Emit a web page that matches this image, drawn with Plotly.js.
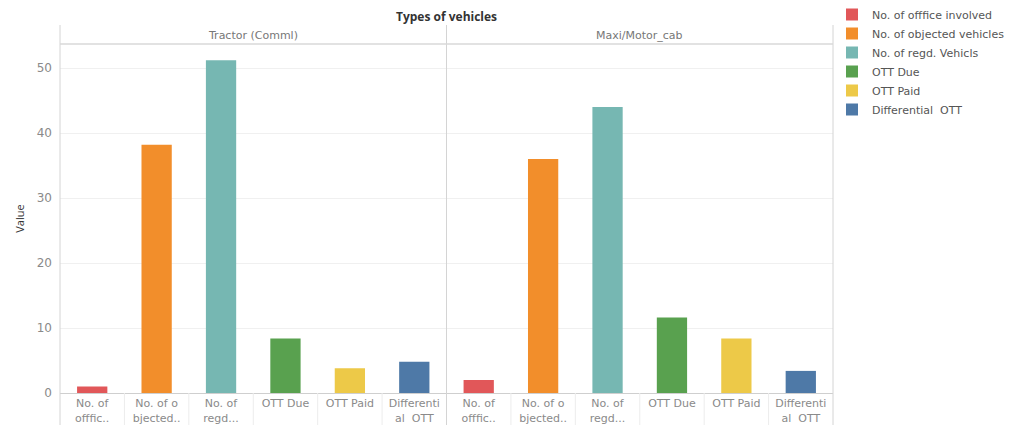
<!DOCTYPE html>
<html>
<head>
<meta charset="utf-8">
<script src="https://cdn.plot.ly/plotly-3.0.1.min.js"></script>
<style>html,body{margin:0;padding:0;background:#fff;}#chart{width:1024px;height:425px;}</style>
</head>
<body>
<div id="chart"></div>
<script>
// Data
const panels = ["Tractor (Comml)", "Maxi/Motor_cab"];
const metrics = ["No. of offfice involved", "No. of objected vehicles", "No. of regd. Vehicls", "OTT Due", "OTT Paid", "Differential  OTT"];
const tickLabels = ["No. of<br>offfic..", "No. of o<br>bjected..", "No. of<br>regd...", "OTT Due", "OTT Paid", "Differenti<br>al  OTT"];
const tractorValues = [1.0, 38.2, 51.2, 8.4, 3.8, 4.8];
const maxiValues = [2.0, 36.0, 44.0, 11.6, 8.4, 3.4];
const colors = ["#E15759", "#F28E2B", "#76B7B2", "#59A14F", "#EDC948", "#4E79A7"];

const FONT = "DejaVu Sans, sans-serif";
const FONT2 = "Open Sans, sans-serif";
const traces = [];
const series = [tractorValues, maxiValues];
series.forEach((vals, p) => {
  metrics.forEach((m, i) => {
    traces.push({
      type: "bar",
      name: m,
      x: [m],
      y: [vals[i]],
      xaxis: p === 0 ? "x" : "x2",
      yaxis: "y",
      marker: {color: colors[i], line: {width: 0}},
      legendgroup: m,
      showlegend: p === 0,
      hoverinfo: "x+y"
    });
  });
});

const plotH = 425 - 44 - 32;
const yHead = 1 + 19 / plotH;   // top of header lines
const yBottom = -32 / plotH;

const axisCommon = {
  type: "category",
  categoryorder: "array",
  categoryarray: metrics,
  tickvals: metrics,
  ticktext: tickLabels,
  tickfont: {family: FONT, size: 11, color: "#8a8a8a"},
  showgrid: false,
  zeroline: false,
  showline: true,
  linecolor: "#cfcfcf",
  linewidth: 1,
  ticks: "",
  fixedrange: true,
  automargin: false
};

const shapes = [];
[0, 0.5, 1].forEach(x => {
  shapes.push({type: "line", xref: "paper", yref: "paper", x0: x, x1: x, y0: yBottom, y1: yHead,
    line: {color: "#d4d4d4", width: 1}});
});
shapes.push({type: "line", xref: "paper", yref: "paper", x0: 0, x1: 1, y0: 1, y1: 1,
  line: {color: "#d8d8d8", width: 1.5}});
["x", "x2"].forEach(ax => {
  for (let i = 1; i < metrics.length; i++) {
    shapes.push({type: "line", xref: ax, yref: "paper", x0: i - 0.5, x1: i - 0.5, y0: yBottom, y1: 0,
      line: {color: "#ececec", width: 1}});
  }
});

const annotations = [
  {text: "<b>Types of vehicles</b>", xref: "paper", yref: "paper", x: 0.5, y: 1 + 17 / plotH,
    xanchor: "center", yanchor: "bottom", showarrow: false,
    font: {family: FONT2, size: 12, color: "#333"}},
  {text: panels[0], xref: "paper", yref: "paper", x: 0.25, y: 1 + 0 / plotH,
    xanchor: "center", yanchor: "bottom", showarrow: false,
    font: {family: FONT, size: 11, color: "#777"}},
  {text: panels[1], xref: "paper", yref: "paper", x: 0.75, y: 1 + 0 / plotH,
    xanchor: "center", yanchor: "bottom", showarrow: false,
    font: {family: FONT, size: 11, color: "#777"}}
];

const layout = {
  width: 1024,
  height: 425,
  margin: {l: 60, r: 191, t: 44, b: 32, pad: 0, autoexpand: false},
  paper_bgcolor: "#fff",
  plot_bgcolor: "#fff",
  barmode: "overlay",
  bargap: 0.53,
  showlegend: true,
  legend: {
    xref: "container", yref: "container",
    x: 832 / 1024, xanchor: "left", y: 1, yanchor: "top",
    font: {family: FONT, size: 11, color: "#555"},
    tracegroupgap: 0, itemwidth: 30, bgcolor: "rgba(0,0,0,0)"
  },
  xaxis: Object.assign({}, axisCommon, {domain: [0, 0.5], anchor: "y"}),
  xaxis2: Object.assign({}, axisCommon, {domain: [0.5, 1], anchor: "y"}),
  yaxis: {
    range: [0, 53.7],
    dtick: 10,
    tick0: 0,
    showgrid: true,
    gridcolor: "#f0f0f0",
    zeroline: false,
    showline: false,
    ticks: "",
    tickfont: {family: FONT, size: 12, color: "#8a8a8a"},
    ticklabelstandoff: 7,
    title: {text: "Value", font: {family: FONT2, size: 11, color: "#333"}, standoff: 9},
    fixedrange: true,
    automargin: false
  },
  shapes: shapes,
  annotations: annotations
};

Plotly.newPlot("chart", traces, layout, {displayModeBar: false, staticPlot: true});
</script>
</body>
</html>
